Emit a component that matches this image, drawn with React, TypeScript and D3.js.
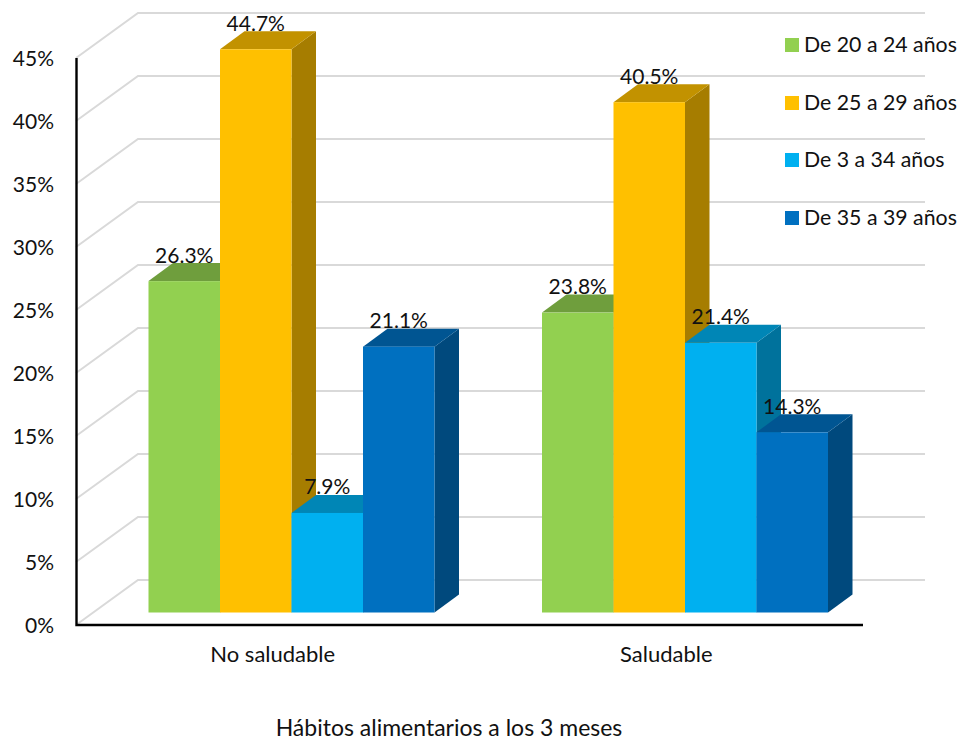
import React from "react";
import * as d3 from "d3";

const categories = ["No saludable", "Saludable"];
const seriesNames = ["De 20 a 24 años", "De 25 a 29 años", "De 3 a 34 años", "De 35 a 39 años"];
const noSaludable = [26.3, 44.7, 7.9, 21.1];
const saludable = [23.8, 40.5, 21.4, 14.3];
const seriesColors = ["#92D050", "#FFC000", "#00B0F0", "#0070C0"];
const yTicks = [0, 5, 10, 15, 20, 25, 30, 35, 40, 45];
const axisTitle = "Hábitos alimentarios a los 3 meses";

const width = 965;
const height = 742;
const fontFamily = "Lato, 'Open Sans', sans-serif";

// Projection of the 3D box: the back wall is shifted up and to the right of the front plane.
const wallDx = 62;
const wallDy = -45;
const barDx = 24.5;
const barDy = -18;

const yAxis = d3.scaleLinear().domain([0, 45]).range([625, 58]);
const yBar = d3.scaleLinear().domain([0, 45]).range([612.5, 45.5]);
const xGroup = d3.scaleBand<string>().domain(categories).range([76, 863]);
const xSeries = d3.scaleBand<string>().domain(seriesNames).range([72.5, 358.5]);

const shade = (c: string, k: number) => {
  const { r, g, b } = d3.rgb(c);
  return d3.rgb(r * k, g * k, b * k).formatHex();
};
const poly = d3.line();

function Bar({ x, w, value, color }: { x: number; w: number; value: number; color: string }) {
  const top = yBar(value);
  const base = yBar(0);
  return (
    <g>
      <path
        d={poly([[x + w, top], [x + w + barDx, top + barDy], [x + w + barDx, base + barDy], [x + w, base]])!}
        fill={shade(color, 0.65)}
      />
      <path
        d={poly([[x, top], [x + barDx, top + barDy], [x + w + barDx, top + barDy], [x + w, top]])!}
        fill={shade(color, 0.76)}
      />
      <rect x={x} y={top} width={w} height={base - top} fill={color} />
    </g>
  );
}

export default function App() {
  const groups = [noSaludable, saludable];
  const w = xSeries.bandwidth();
  const legendY = [45, 103, 160, 218];
  return (
    <svg
      width={width}
      height={height}
      viewBox={`0 0 ${width} ${height}`}
      style={{ position: "absolute", left: 0, top: 0, background: "#fff" }}
      fontFamily={fontFamily}
      fill="#111"
    >
      {/* Gridlines run along the floor edge, then across the back wall */}
      {yTicks.map((t) => (
        <path
          key={t}
          d={poly([[76, yAxis(t)], [76 + wallDx, yAxis(t) + wallDy], [925, yAxis(t) + wallDy]])!}
          fill="none"
          stroke="#D9D9D9"
          strokeWidth={2}
        />
      ))}

      {/* Axes */}
      <path d={poly([[76.5, yAxis(45)], [76.5, yAxis(0)], [863, yAxis(0)]])!} fill="none" stroke="#000" strokeWidth={2.4} />

      {yTicks.map((t) => (
        <text key={t} x={54} y={yAxis(t) + 7.5} textAnchor="end" fontSize={21}>
          {t}%
        </text>
      ))}

      {/* Bars, left to right so each one overlaps the side of its neighbour */}
      {categories.map((cat, ci) =>
        seriesNames.map((s, si) => (
          <Bar
            key={cat + s}
            x={xGroup(cat)! + xSeries(s)!}
            w={w}
            value={groups[ci][si]}
            color={seriesColors[si]}
          />
        ))
      )}

      {/* Value labels */}
      {categories.map((cat, ci) =>
        seriesNames.map((s, si) => (
          <text
            key={cat + s}
            x={xGroup(cat)! + xSeries(s)! + w / 2}
            y={yBar(groups[ci][si]) + barDy - 0.5}
            textAnchor="middle"
            fontSize={21}
          >
            {groups[ci][si].toFixed(1)}%
          </text>
        ))
      )}

      {/* Category labels */}
      {categories.map((cat) => (
        <text key={cat} x={xGroup(cat)! + xGroup.bandwidth() / 2} y={662} textAnchor="middle" fontSize={22}>
          {cat}
        </text>
      ))}

      <text x={449} y={736} textAnchor="middle" fontSize={23}>
        {axisTitle}
      </text>

      {/* Legend */}
      {seriesNames.map((s, si) => (
        <g key={s}>
          <rect x={785} y={legendY[si] - 7} width={14} height={14} fill={seriesColors[si]} />
          <text x={804} y={legendY[si] + 7} fontSize={21.3}>
            {s}
          </text>
        </g>
      ))}
    </svg>
  );
}
